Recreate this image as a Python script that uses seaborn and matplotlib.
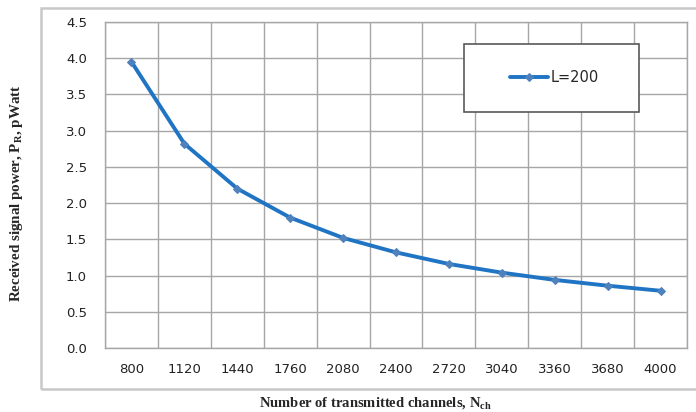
import matplotlib
matplotlib.use("Agg")
import matplotlib.pyplot as plt
import seaborn as sns
import pandas as pd
from matplotlib.patches import Rectangle

channels = ["800", "1120", "1440", "1760", "2080", "2400", "2720", "3040", "3360", "3680", "4000"]
power = [3.95, 2.82, 2.20, 1.80, 1.52, 1.32, 1.16, 1.04, 0.94, 0.86, 0.79]
series_label = "L=200"
y_ticks = [0.0, 0.5, 1.0, 1.5, 2.0, 2.5, 3.0, 3.5, 4.0, 4.5]

df = pd.DataFrame({"Nch": channels, "P": power, "series": series_label})

sns.set_style("white")
plt.rcParams['font.family'] = ['DejaVu Sans']
plt.rcParams['mathtext.fontset'] = 'custom'
plt.rcParams['mathtext.rm'] = 'Liberation Serif:bold'
plt.rcParams['mathtext.bf'] = 'Liberation Serif:bold'
plt.rcParams['mathtext.it'] = 'Liberation Serif:bold'

fig = plt.figure(figsize=(6.96, 4.12), dpi=100)
ax = fig.add_axes([105/696, 64/412, 582/696, 326/412])

grid_c = "#a6a6a6"
sns.lineplot(data=df, x="Nch", y="P", hue="series", palette=["#1f74c4"],
             marker="D", markersize=4.5, markerfacecolor="#4f81bd",
             markeredgecolor="#4f81bd", linewidth=2.8, ax=ax, sort=False)

n = len(channels)
ax.set_xlim(-0.5, n - 0.5)
ax.set_ylim(0, 4.5)
ax.set_yticks(y_ticks)
ax.set_yticklabels([f"{v:.1f}" for v in y_ticks])
ax.set_xticks(range(n))
ax.set_xticklabels(channels)
ax.set_xticks([i - 0.5 for i in range(n + 1)], minor=True)

ax.grid(False)
for v in y_ticks:
    ax.axhline(v, color=grid_c, lw=1.0, zorder=0)
for i in range(n + 1):
    ax.axvline(i - 0.5, color=grid_c, lw=1.0, zorder=0)

ax.tick_params(axis="x", which="major", length=0, pad=11, labelsize=9.5, colors="#222222")
ax.tick_params(axis="x", which="minor", length=5, width=1, color=grid_c, direction="out")
ax.tick_params(axis="y", which="major", length=6, width=1, color=grid_c, direction="out",
               pad=7, labelsize=9.5, labelcolor="#222222")
for s in ax.spines.values():
    s.set_color(grid_c)
    s.set_linewidth(1.0)

ax.set_xlabel("")
ax.set_ylabel("")

# legend box
x0, x1 = (464 - 105) / 582, (639 - 105) / 582
y0, y1 = (348 - 112) / 326, (348 - 44) / 326
ax.add_patch(Rectangle((x0, y0), x1 - x0, y1 - y0, transform=ax.transAxes,
                       facecolor="white", edgecolor="#595959", lw=1.2, zorder=5))
handles, labels = ax.get_legend_handles_labels()
leg = ax.legend(handles, labels, loc="center", bbox_to_anchor=((x0 + x1) / 2 + 0.005, (y0 + y1) / 2),
                frameon=False, fontsize=10.5, handlelength=2.6, handletextpad=0.2, markerscale=0.9)
leg.set_zorder(6)

# outer frame
fig.patches.append(Rectangle((41/696, 23/412), 1.0, (389 - 8)/412, transform=fig.transFigure,
                             facecolor="none", edgecolor="#c8c8c8", lw=1.8, zorder=0))

fig.text(375/696, 1 - 403/412, r"Number of transmitted channels, N$_{\mathrm{ch}}$",
         ha="center", va="center", fontsize=10.5, fontweight="bold", family="Liberation Serif")
fig.text(17/696, 1 - 193/412, r"Received signal power, P$_{\mathrm{R}}$, pWatt",
         ha="center", va="center", rotation=90, fontsize=10.8, fontweight="bold", family="Liberation Serif")

fig.savefig("out.png", dpi=100)
